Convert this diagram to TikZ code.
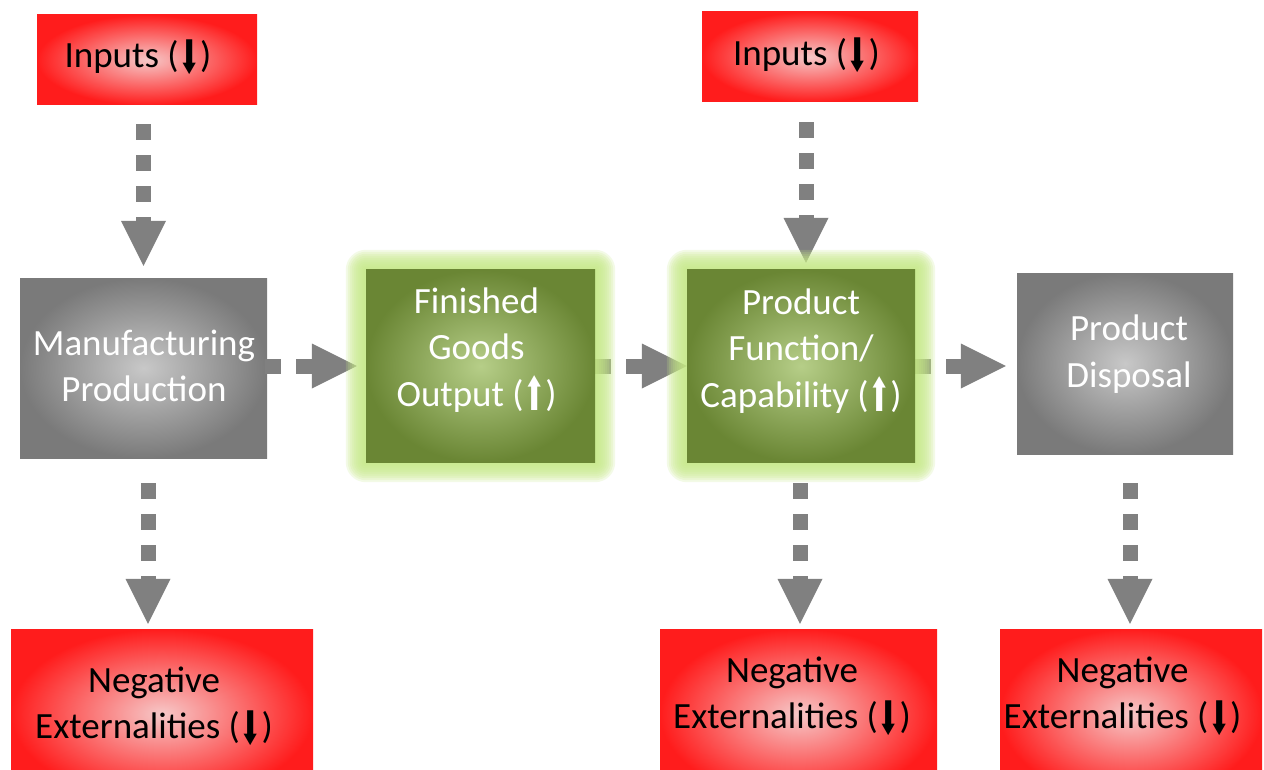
\documentclass[tikz,border=0pt]{standalone}
\usepackage{graphicx}
\usepackage{fontspec}
\setmainfont{Carlito}
\newfontfamily\arrowfont{DejaVu Sans}
\usetikzlibrary{arrows.meta,calc}
\definecolor{redIn}{RGB}{246,200,200}
\definecolor{redOut}{RGB}{255,28,28}
\definecolor{grayIn}{RGB}{200,200,200}
\definecolor{grayOut}{RGB}{122,122,122}
\definecolor{greenIn}{RGB}{182,206,136}
\definecolor{greenOut}{RGB}{106,134,52}
\definecolor{glowc}{RGB}{198,234,134}
\definecolor{arrowgray}{RGB}{128,128,128}
\newcommand{\dnarr}{\kern-0.01em\raisebox{-0.16em}{\arrowfont\scalebox{0.72}[1.25]{⬇}}\kern-0.01em}
\newcommand{\uparr}{\kern-0.01em\raisebox{-0.1em}{\arrowfont\scalebox{0.72}[1.25]{⬆}}\kern-0.01em}
\begin{document}
\begin{tikzpicture}[x=1pt,y=-1pt,
  redbox/.style={inner sep=0pt, inner color=redIn, outer color=redOut},
  graybox/.style={inner sep=0pt, inner color=grayIn, outer color=grayOut},
  greenbox/.style={inner sep=0pt, inner color=greenIn, outer color=greenOut},
  txt/.style={font=\fontsize{37}{46.5}\selectfont, align=center, inner sep=0pt},
  txtb/.style={txt, text=black},
  txtw/.style={txt, text=white},
  flow/.style={draw=arrowgray, line width=15pt, dash pattern=on 16pt off 15pt,
    -{Triangle[width=45pt,length=45pt,line width=0pt,fill=arrowgray]}}
]
\useasboundingbox (0,0) rectangle (1264,770);
\clip (0,0) rectangle (1264,770);
\fill[white] (0,0) rectangle (1264,770);

% box geometry (nodes)
\node[redbox, minimum width=220pt, minimum height=90pt] (in1) at (147,60) {};
\node[redbox, minimum width=216pt, minimum height=90pt] (in2) at (810,57) {};
\node[graybox, minimum width=247pt, minimum height=180pt] (mp) at (143.5,368) {};
\node[graybox, minimum width=216pt, minimum height=181pt] (pd) at (1125,363.5) {};
\node[redbox, minimum width=302pt, minimum height=170pt] (ng1) at (162,714) {};
\node[redbox, minimum width=277pt, minimum height=170pt] (ng2) at (798.5,714) {};
\node[redbox, minimum width=262pt, minimum height=170pt] (ng3) at (1131,714) {};
\path (480.5,366) coordinate (fgc) (801,366) coordinate (pfc);
\path (fgc) node[minimum width=229pt, minimum height=192pt, inner sep=0pt] (fg) {}
      (pfc) node[minimum width=228pt, minimum height=192pt, inner sep=0pt] (pf) {};

% connectors
\coordinate (a0) at ($(in1.south -| mp.north)+(0,19)$);
\draw[flow, shorten >=12pt] (a0) -- (mp.north);
\coordinate (b0) at ($(in2.south)+(-4,20)$);
\draw[flow, shorten >=7pt] (b0) -- (b0 |- pf.north);
\coordinate (c0) at ($(mp.south)+(4.5,25)$);
\draw[flow, shorten >=5pt] (c0) -- (c0 |- ng1.north);
\coordinate (d0) at ($(pf.south)+(-1,21)$);
\draw[flow, shorten >=5pt] (d0) -- (d0 |- ng2.north);
\coordinate (e0) at ($(pd.south)+(5,29)$);
\draw[flow, shorten >=5pt] (e0) -- (e0 |- ng3.north);
\draw[flow, shorten >=9pt] ($(mp.east |- fg.west)+(-2,0)$) -- (fg.west);
\draw[flow] (fg.east) -- (pf.west);
\draw[flow, shorten >=11pt] (pf.east) -- (pf.east -| pd.west);

% glow
\foreach \n in {fg,pf}{
  \foreach \r in {20,18,...,2}{
    \fill[glowc, opacity=0.2, rounded corners=\r pt]
      ($(\n.south west)+(-\r,\r)$) rectangle ($(\n.north east)+(\r,-\r)$);
  }
}
\node[greenbox, minimum width=229pt, minimum height=192pt] at (fgc) {};
\node[greenbox, minimum width=228pt, minimum height=192pt] at (pfc) {};

% texts
\node[txtb] (in1t) at (138,57) {Inputs (\dnarr)};
\node[txtb] (in2t) at (806.5,55) {Inputs (\dnarr)};
\node[txtw] (mpt) at (144,366) {Manufacturing\\Production};
\node[txtw] (fgt) at (476.5,350) {Finished\\Goods\\Output (\uparr)};
\node[txtw] (pft) at (801,351) {Product\\Function/\\Capability (\uparr)};
\node[txtw] (pdt) at (1129,354) {Product\\Disposal};
\node[txtb] (ng1t) at (154,706) {Negative\\Externalities (\dnarr)};
\node[txtb] (ng2t) at (792,696) {Negative\\Externalities (\dnarr)};
\node[txtb] (ng3t) at (1122.5,696) {Negative\\Externalities (\dnarr)};
\end{tikzpicture}
\end{document}
